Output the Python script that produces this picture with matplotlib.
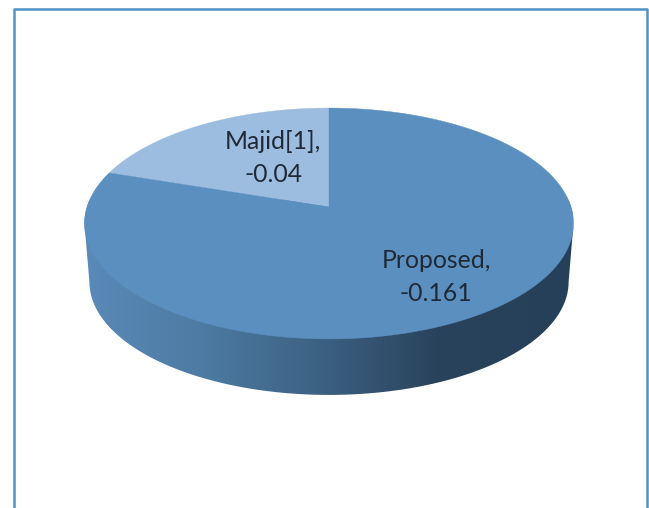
import numpy as np
import matplotlib
matplotlib.use('Agg')
import matplotlib.pyplot as plt
from matplotlib.colors import LinearSegmentedColormap
from matplotlib.patches import Polygon

# data
labels = ['Majid[1],\n-0.04', 'Proposed,\n-0.161']
values = [0.04, 0.161]
colors = ['#9dbde0', '#5b8fc0']
label_pos = [(273, 158), (436, 277)]

# pie geometry in image pixels, the top face is a circle seen in perspective
cx, cy = 329, 207
A, B, k = 242, 113.1, 1/7
depth = 58.6

def project(theta, scale=1.0, dy=0):
    # theta is clockwise from 12 o'clock
    u, v = np.sin(theta), np.cos(theta)
    w = 1 + k*v
    return cx + scale*A*u/w, cy + dy - scale*B*v/w

fig = plt.figure(figsize=(6.49, 5.08), dpi=100)
ax = fig.add_axes([0, 0, 1, 1])
ax.set_xlim(0, 649)
ax.set_ylim(508, 0)
ax.axis('off')

# chart frame, cut off at the bottom of the picture
ax.plot([13.5, 13.5, 647, 647], [512, 8.5, 8.5, 512], color='#4f94c4', lw=1.8)

# side wall with horizontal gradient
edge = np.pi/2 + np.arcsin(k)
low = np.linspace(edge, 2*np.pi - edge, 200)   # right to left along the front
up = np.linspace(-edge, edge, 200)             # left to right over the back
xl, yl = project(low, 0.98, depth)
xu, yu = project(up)
wall = Polygon(np.r_[np.c_[xl, yl], np.c_[xu, yu]], closed=True,
               transform=ax.transData, fc='none', ec='none')
ax.add_patch(wall)
cmap = LinearSegmentedColormap.from_list('side', [
    (0.0, '#5a8ab8'), (0.25, '#4c7aa2'), (0.5, '#3b5f80'),
    (0.72, '#2a435c'), (1.0, '#27405a')])
im = ax.imshow(np.linspace(0, 1, 256)[None, :], cmap=cmap, aspect='auto',
               extent=[84, 573, 400, 200], zorder=2)
im.set_clip_path(wall)
ax.set_xlim(0, 649)
ax.set_ylim(508, 0)

# top face slices, clockwise starting at 12 o'clock with the last slice first
fracs = np.array(values)/sum(values)
start = -fracs[0]*2*np.pi
for frac, col, lab, pos in zip(fracs, colors, labels, label_pos):
    th = np.linspace(start, start + frac*2*np.pi, 300)
    x, y = project(th)
    ax.fill(np.r_[cx, x], np.r_[cy, y], color=col, lw=0.3, zorder=3)
    ax.text(pos[0], pos[1], lab, family='Lato', fontsize=17.8, color='#1f2a36',
            ha='center', va='center', linespacing=1.55, zorder=4)
    start += frac*2*np.pi

fig.savefig('out.png', dpi=100)
